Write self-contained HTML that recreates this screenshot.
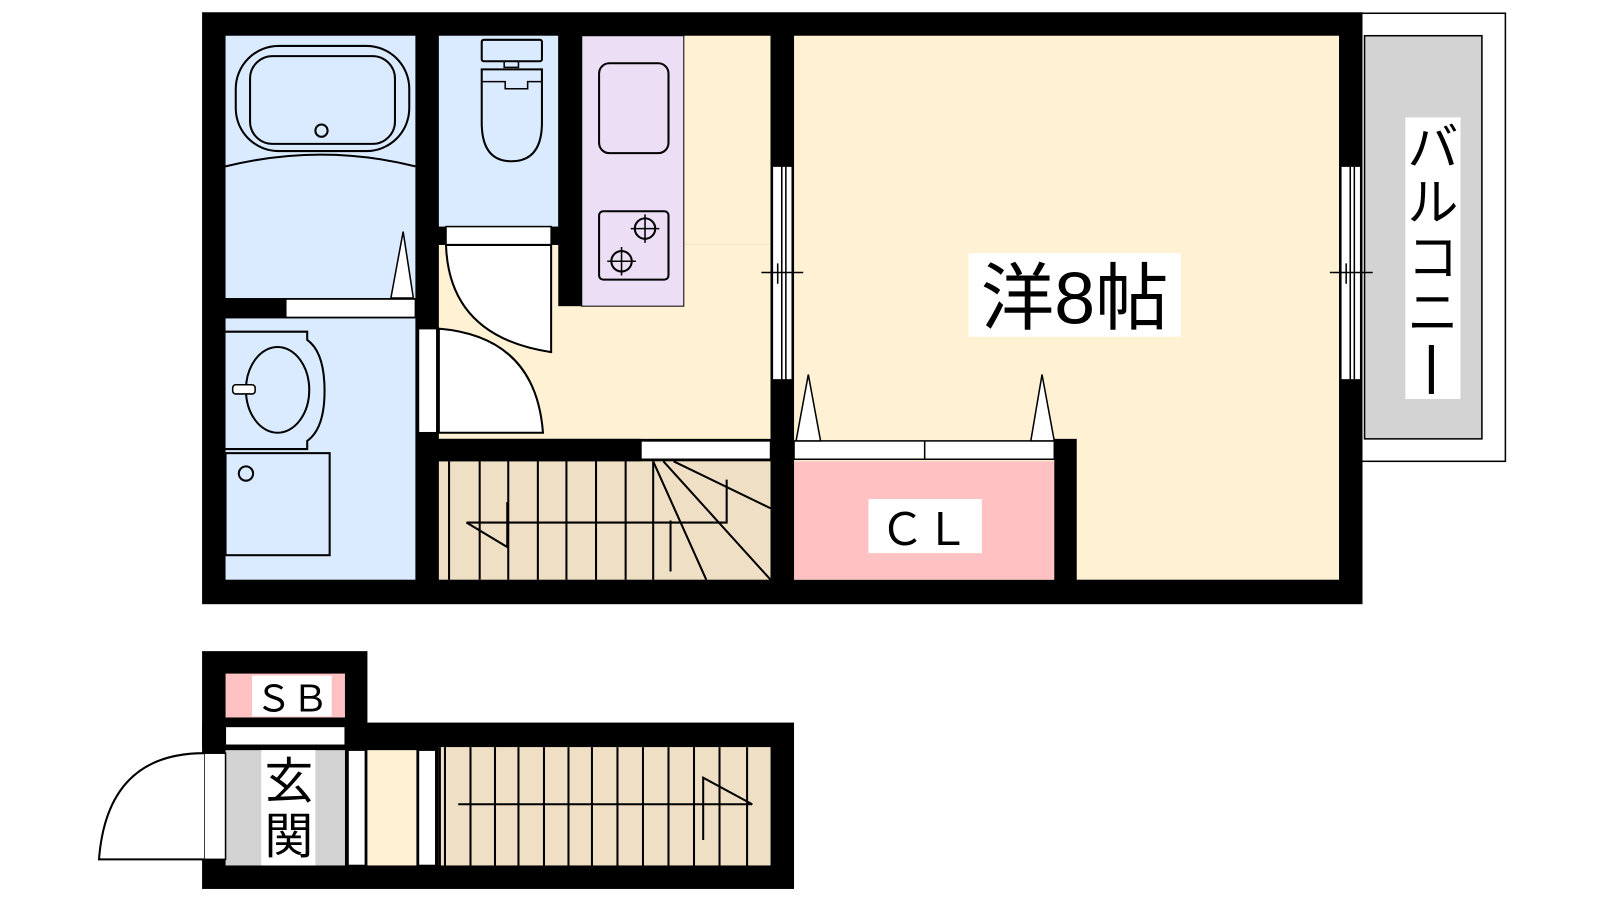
<!DOCTYPE html>
<html><head><meta charset="utf-8"><style>
html,body{margin:0;padding:0;background:#fff;width:1600px;height:900px;overflow:hidden}
svg{display:block}
text{font-family:"Liberation Sans","Noto Sans CJK JP",sans-serif;fill:#000}
</style></head><body>
<svg width="1600" height="900" viewBox="0 0 1600 900" xmlns="http://www.w3.org/2000/svg">
<g transform="scale(1.0206)">
<!-- balcony -->
<rect x="1325" y="13" width="150" height="439" fill="#fff" stroke="#000" stroke-width="1.5"/>
<rect x="1337" y="35" width="115" height="395" fill="#d3d3d3" stroke="#000" stroke-width="1.5"/>
<!-- main outer wall -->
<rect x="198" y="12" width="1137" height="580" fill="#000"/>
<!-- rooms -->
<rect x="221" y="35" width="186" height="257" fill="#dbebff"/>
<rect x="221" y="312" width="186" height="256" fill="#dbebff"/>
<rect x="430" y="35" width="117" height="187" fill="#dbebff"/>
<rect x="430" y="240" width="325" height="190" fill="#fff2d4"/>
<rect x="670" y="35" width="85" height="205" fill="#fff2d4"/>
<rect x="570" y="35" width="100" height="265" fill="#ecdff5" stroke="#000" stroke-width="1"/>
<rect x="430" y="452" width="325" height="116" fill="#efdfc4"/>
<rect x="778" y="35" width="534" height="533" fill="#fff2d4"/>
<rect x="778" y="452" width="255" height="116" fill="#ffc1c1"/>
<!-- walls inside -->
<rect x="547" y="35" width="23" height="265" fill="#000"/>
<rect x="1033" y="430" width="22" height="140" fill="#000"/>
<!-- bath door strip -->
<rect x="280" y="293" width="127" height="18" fill="#fff" stroke="#000" stroke-width="1.5"/>
<polygon points="383,292 395,227 405,292" fill="#fff" stroke="#000" stroke-width="1.5"/>
<!-- bath tub -->
<path d="M221,163 Q315,140 407,163" fill="#dbebff" stroke="#000" stroke-width="2"/>
<rect x="231" y="45" width="170" height="103" rx="42" fill="none" stroke="#000" stroke-width="2"/>
<rect x="245" y="55" width="142" height="86" rx="22" fill="none" stroke="#000" stroke-width="2"/>
<circle cx="315" cy="128" r="6" fill="none" stroke="#000" stroke-width="2"/>
<!-- wash basin -->
<path d="M221,325 H301 V333 Q318,345 318,383 Q318,420 301,432 V440 H221" fill="none" stroke="#000" stroke-width="2"/>
<ellipse cx="272" cy="382" rx="31" ry="42" fill="none" stroke="#000" stroke-width="2"/>
<rect x="228" y="377" width="22" height="9" rx="3" fill="#fff" stroke="#000" stroke-width="1.5"/>
<rect x="221" y="444" width="102" height="100" fill="none" stroke="#000" stroke-width="2"/>
<circle cx="241" cy="464" r="7" fill="none" stroke="#000" stroke-width="2"/>
<!-- washroom door opening -->
<rect x="410" y="322" width="18" height="102" fill="#fff" stroke="#000" stroke-width="1.5"/>
<path d="M430,322 Q525,330 532,424 H430 Z" fill="#fff" stroke="#000" stroke-width="2"/>
<!-- toilet -->
<rect x="472" y="39" width="59" height="21" rx="2" fill="none" stroke="#000" stroke-width="2"/>
<rect x="494" y="60" width="14" height="6" fill="none" stroke="#000" stroke-width="1.5"/>
<path d="M472,68 H531 V120 Q531,158 501,158 Q472,158 472,120 Z" fill="none" stroke="#000" stroke-width="2"/>
<path d="M472,80 H495 V87 H517 V80 H531" fill="none" stroke="#000" stroke-width="1.5"/>
<!-- toilet door -->
<rect x="437" y="222" width="103" height="18" fill="#fff" stroke="#000" stroke-width="1.5"/>
<path d="M437,240 Q440,330 540,345 V240 Z" fill="#fff" stroke="#000" stroke-width="2"/>
<!-- kitchen -->
<rect x="587" y="62" width="68" height="88" rx="10" fill="none" stroke="#000" stroke-width="2"/>
<rect x="587" y="207" width="68" height="67" rx="4" fill="none" stroke="#000" stroke-width="2"/>
<circle cx="632" cy="224" r="10" fill="none" stroke="#000" stroke-width="2"/>
<path d="M632,210v28M618,224h28" stroke="#000" stroke-width="1.5"/>
<circle cx="609" cy="256" r="10" fill="none" stroke="#000" stroke-width="2"/>
<path d="M609,242v28M595,256h28" stroke="#000" stroke-width="1.5"/>
<!-- hallway / stairs wall -->
<rect x="430" y="430" width="198" height="22" fill="#000"/>
<rect x="628" y="432" width="127" height="18" fill="#fff" stroke="#000" stroke-width="1.5"/>
<g stroke="#000" stroke-width="2" fill="none">
<path d="M440,452V568M470,452V568M498,452V568M527,452V568M555,452V568M584,452V568M613,452V568M640,452V568"/>
<path d="M640,452 L692,568 M650,452 L755,568 M660,452 L755,498 M657,510 V560"/>
<path d="M457,512 H712 V470 M457,512 L497,536 V492"/>
</g>
<!-- wall between kitchen hall and room -->
<rect x="755" y="35" width="23" height="533" fill="#000"/>
<rect x="757" y="163" width="19" height="209" fill="#fff" stroke="#000" stroke-width="1"/>
<path d="M766,163V372M770,163V372M746,267H787M762,258V278M770,258V278" stroke="#000" stroke-width="1.5"/>
<!-- right wall window -->
<rect x="1314" y="163" width="19" height="209" fill="#fff" stroke="#000" stroke-width="1"/>
<path d="M1323,163V372M1327,163V372M1303,267H1345M1319,258V278M1327,258V278" stroke="#000" stroke-width="1.5"/>
<!-- closet doors -->
<rect x="778" y="432" width="255" height="18" fill="#fff" stroke="#000" stroke-width="1.5"/>
<path d="M906,432V450" stroke="#000" stroke-width="1.5"/>
<polygon points="780,432 792,367 804,432" fill="#fff" stroke="#000" stroke-width="1.5"/>
<polygon points="1010,432 1021,367 1033,432" fill="#fff" stroke="#000" stroke-width="1.5"/>
<!-- labels -->
<rect x="949" y="248" width="208" height="82" fill="#fff"/>
<text x="1053" y="317" font-size="72" text-anchor="middle">洋8帖</text>
<rect x="1377" y="115" width="54" height="276" fill="#fff"/>
<text x="1404" y="162" font-size="50" text-anchor="middle">バ</text>
<text x="1404" y="216" font-size="50" text-anchor="middle">ル</text>
<text x="1404" y="270" font-size="50" text-anchor="middle">コ</text>
<text x="1404" y="324" font-size="50" text-anchor="middle">ニ</text>
<rect x="1400" y="338" width="5" height="48" fill="#000"/>
<rect x="851" y="489" width="111" height="53" fill="#fff"/>
<text x="906" y="534" font-size="44" text-anchor="middle">ＣＬ</text>

<!-- lower section -->
<rect x="198" y="638" width="162" height="95" fill="#000"/>
<rect x="198" y="708" width="580" height="163" fill="#000"/>
<rect x="221" y="660" width="117" height="43" fill="#ffc1c1"/>
<rect x="247" y="662" width="78" height="40" fill="#fff"/>
<text x="286" y="697" font-size="36" text-anchor="middle">ＳＢ</text>
<rect x="221" y="712" width="117" height="18" fill="#fff" stroke="#000" stroke-width="1"/>
<rect x="221" y="735" width="117" height="113" fill="#d3d3d3"/>
<rect x="256" y="735" width="53" height="113" fill="#fff"/>
<text x="283" y="782" font-size="48" text-anchor="middle">玄</text>
<text x="283" y="836" font-size="48" text-anchor="middle">関</text>
<rect x="200" y="738" width="21" height="104" fill="#fff" stroke="#000" stroke-width="1.5"/>
<path d="M200,738 Q105,738 97,842 H200" fill="#fff" stroke="#000" stroke-width="2"/>
<rect x="341" y="735" width="17" height="113" fill="#fff" stroke="#000" stroke-width="1.5"/>
<rect x="360" y="735" width="48" height="113" fill="#fff2d4"/>
<rect x="410" y="735" width="17" height="113" fill="#fff" stroke="#000" stroke-width="1.5"/>
<rect x="430" y="732" width="325" height="116" fill="#efdfc4"/>
<g stroke="#000" stroke-width="2" fill="none">
<path d="M431,732V848M436,732V848M461,732V848M485,732V848M508,732V848M533,732V848M557,732V848M580,732V848M605,732V848M630,732V848M655,732V848M680,732V848M705,732V848M732,732V848"/>
<path d="M449,788 H737 L689,762 V823"/>
</g>
</g>
</svg>
</body></html>
